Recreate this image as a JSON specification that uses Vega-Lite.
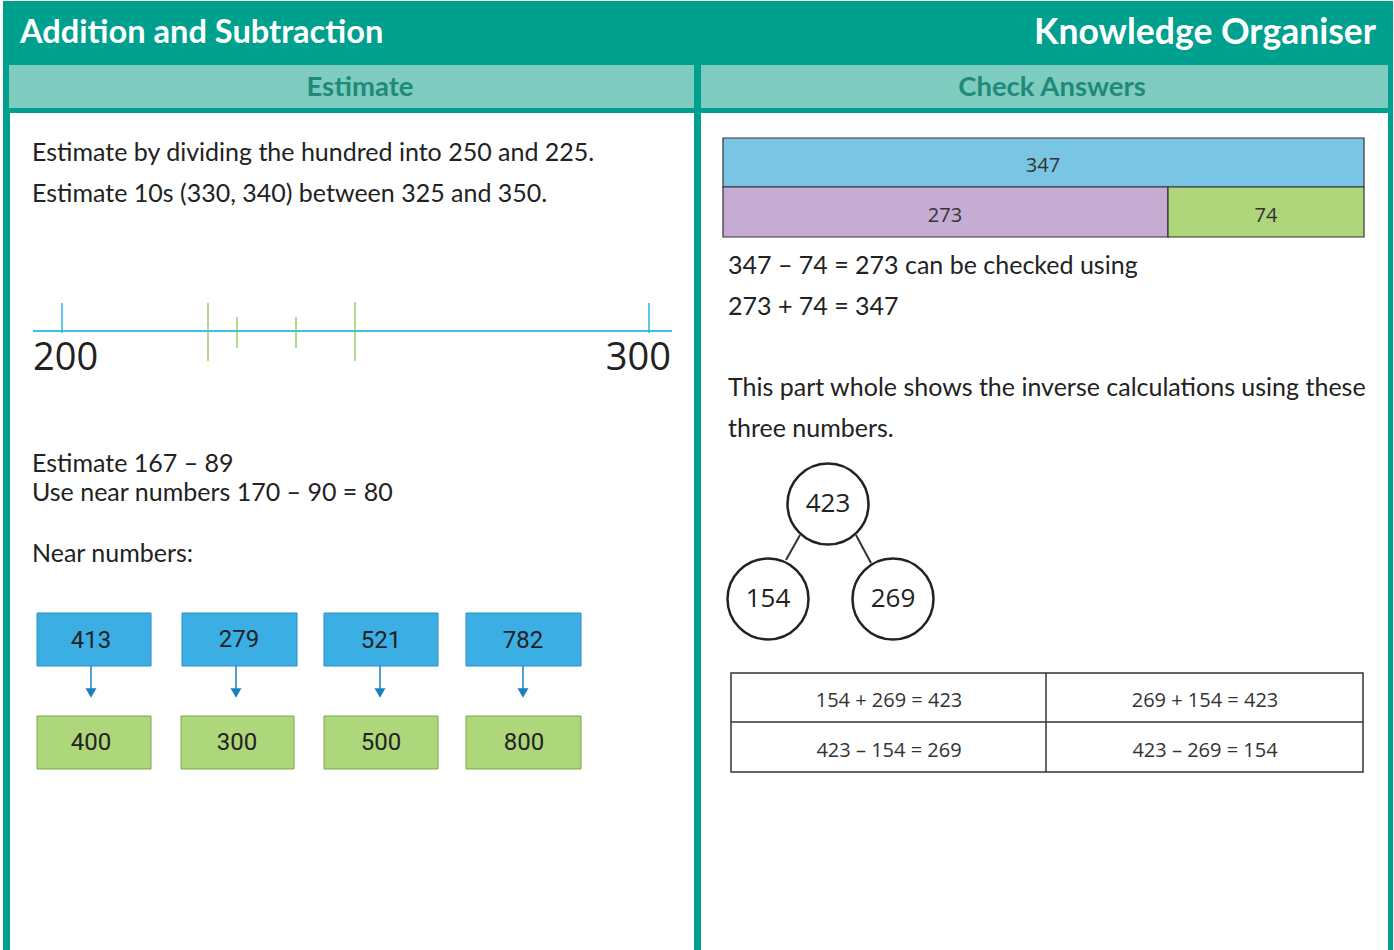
{
  "$schema": "https://vega.github.io/schema/vega-lite/v6.json",
  "width": 1394,
  "height": 950,
  "autosize": {"type": "fit", "contains": "padding"},
  "padding": 0,
  "background": "white",
  "config": {"view": {"stroke": null}},
  "datasets": {
    "frame": [{"x": 3, "y": 1, "x2": 1393, "y2": 950}],
    "subheads": [{"x": 9, "y": 65, "x2": 694, "y2": 108}, {"x": 701, "y": 65, "x2": 1388, "y2": 108}],
    "panels": [{"x": 10, "y": 113, "x2": 694, "y2": 950}, {"x": 701, "y": 113, "x2": 1388, "y2": 950}],
    "title_left": [{"x": 20, "y": 33, "t": "Addition and Subtraction"}],
    "title_right": [{"x": 1376, "y": 33, "t": "Knowledge Organiser"}],
    "subhead_text": [{"x": 360, "y": 88, "t": "Estimate"}, {"x": 1052, "y": 88, "t": "Check Answers"}],
    "body": [
      {"x": 32, "y": 153, "t": "Estimate by dividing the hundred into 250 and 225."},
      {"x": 32, "y": 194, "t": "Estimate 10s (330, 340) between 325 and 350."},
      {"x": 32, "y": 464, "t": "Estimate 167 – 89"},
      {"x": 32, "y": 493, "t": "Use near numbers 170 – 90 = 80"},
      {"x": 32, "y": 554, "t": "Near numbers:"},
      {"x": 728, "y": 266, "t": "347 – 74 = 273 can be checked using"},
      {"x": 728, "y": 307, "t": "273 + 74 = 347"},
      {"x": 728, "y": 388, "t": "This part whole shows the inverse calculations using these"},
      {"x": 728, "y": 429, "t": "three numbers."}
    ],
    "line_main": [{"x": 33, "x2": 672, "y": 331, "y2": 331}],
    "ticks_blue": [{"x": 62, "x2": 62, "y": 303, "y2": 333}, {"x": 649, "x2": 649, "y": 303, "y2": 333}],
    "ticks_green": [
      {"x": 208, "x2": 208, "y": 303, "y2": 361},
      {"x": 237, "x2": 237, "y": 317, "y2": 348},
      {"x": 296, "x2": 296, "y": 317, "y2": 348},
      {"x": 355, "x2": 355, "y": 302, "y2": 361}
    ],
    "nl_left": [{"x": 33, "y": 359, "t": "200"}],
    "nl_right": [{"x": 671, "y": 359, "t": "300"}],
    "boxes_given": [
      {"x": 37, "x2": 151, "y": 613, "y2": 666},
      {"x": 182, "x2": 297, "y": 613, "y2": 666},
      {"x": 324, "x2": 438, "y": 613, "y2": 666},
      {"x": 466, "x2": 581, "y": 613, "y2": 666}
    ],
    "given_text": [
      {"x": 91, "y": 641, "t": "413"},
      {"x": 239, "y": 640, "t": "279"},
      {"x": 381, "y": 641, "t": "521"},
      {"x": 523, "y": 641, "t": "782"}
    ],
    "arrows": [
      {"x": 91, "x2": 91, "y": 666, "y2": 689},
      {"x": 236, "x2": 236, "y": 666, "y2": 689},
      {"x": 380, "x2": 380, "y": 666, "y2": 689},
      {"x": 523, "x2": 523, "y": 666, "y2": 689}
    ],
    "heads": [{"x": 91, "y": 693}, {"x": 236, "y": 693}, {"x": 380, "y": 693}, {"x": 523, "y": 693}],
    "boxes_round": [
      {"x": 37, "x2": 151, "y": 716, "y2": 769},
      {"x": 181, "x2": 294, "y": 716, "y2": 769},
      {"x": 324, "x2": 438, "y": 716, "y2": 769},
      {"x": 466, "x2": 581, "y": 716, "y2": 769}
    ],
    "round_text": [
      {"x": 91, "y": 743, "t": "400"},
      {"x": 237, "y": 743, "t": "300"},
      {"x": 381, "y": 743, "t": "500"},
      {"x": 524, "y": 743, "t": "800"}
    ],
    "bar_model": [
      {"x": 723, "x2": 1364, "y": 138, "y2": 187, "part": "whole"},
      {"x": 723, "x2": 1168, "y": 187, "y2": 237, "part": "part1"},
      {"x": 1168, "x2": 1364, "y": 187, "y2": 237, "part": "part2"}
    ],
    "bar_text": [
      {"x": 1043, "y": 166, "t": "347"},
      {"x": 945, "y": 216, "t": "273"},
      {"x": 1266, "y": 216, "t": "74"}
    ],
    "pw_links": [
      {"x": 800, "y": 535, "x2": 786, "y2": 560},
      {"x": 856, "y": 535, "x2": 871, "y2": 563}
    ],
    "pw_nodes": [
      {"x": 828, "y": 504, "t": "423"},
      {"x": 768, "y": 599, "t": "154"},
      {"x": 893, "y": 599, "t": "269"}
    ],
    "table_box": [{"x": 731, "x2": 1363, "y": 673, "y2": 772}],
    "table_lines": [
      {"x": 731, "x2": 1363, "y": 722, "y2": 722},
      {"x": 1046, "x2": 1046, "y": 673, "y2": 772}
    ],
    "table_text": [
      {"x": 889, "y": 701, "t": "154 + 269 = 423"},
      {"x": 1205, "y": 701, "t": "269 + 154 = 423"},
      {"x": 889, "y": 751, "t": "423 – 154 = 269"},
      {"x": 1205, "y": 751, "t": "423 – 269 = 154"}
    ]
  },
  "encoding": {
    "x": {"field": "x", "type": "quantitative", "axis": null, "scale": {"domain": [0, 1394], "nice": false, "zero": false}},
    "y": {"field": "y", "type": "quantitative", "axis": null, "scale": {"domain": [0, 950], "nice": false, "zero": false, "reverse": true}}
  },
  "layer": [
    {"data": {"name": "frame"}, "mark": {"type": "rect", "color": "#00A08E"}, "encoding": {"x2": {"field": "x2"}, "y2": {"field": "y2"}}},
    {"data": {"name": "subheads"}, "mark": {"type": "rect", "color": "#7ECBBF"}, "encoding": {"x2": {"field": "x2"}, "y2": {"field": "y2"}}},
    {"data": {"name": "panels"}, "mark": {"type": "rect", "color": "white"}, "encoding": {"x2": {"field": "x2"}, "y2": {"field": "y2"}}},
    {"data": {"name": "title_left"}, "mark": {"type": "text", "align": "left", "baseline": "middle", "font": "Lato", "fontWeight": "bold", "fontSize": 32.6, "color": "white"}, "encoding": {"text": {"field": "t"}}},
    {"data": {"name": "title_right"}, "mark": {"type": "text", "align": "right", "baseline": "middle", "font": "Lato", "fontWeight": "bold", "fontSize": 35.5, "color": "white"}, "encoding": {"text": {"field": "t"}}},
    {"data": {"name": "subhead_text"}, "mark": {"type": "text", "align": "center", "baseline": "middle", "font": "Lato", "fontWeight": "bold", "fontSize": 27.5, "color": "#1E8A7A"}, "encoding": {"text": {"field": "t"}}},
    {"data": {"name": "body"}, "mark": {"type": "text", "align": "left", "baseline": "middle", "font": "Lato", "fontSize": 25, "color": "#222222"}, "encoding": {"text": {"field": "t"}}},
    {"data": {"name": "line_main"}, "mark": {"type": "rule", "color": "#3EBFEA", "strokeWidth": 2}, "encoding": {"x2": {"field": "x2"}, "y2": {"field": "y2"}}},
    {"data": {"name": "ticks_blue"}, "mark": {"type": "rule", "color": "#2BB2E6", "strokeWidth": 1.5}, "encoding": {"x2": {"field": "x2"}, "y2": {"field": "y2"}}},
    {"data": {"name": "ticks_green"}, "mark": {"type": "rule", "color": "#7DC241", "strokeWidth": 1.2}, "encoding": {"x2": {"field": "x2"}, "y2": {"field": "y2"}}},
    {"data": {"name": "nl_left"}, "mark": {"type": "text", "align": "left", "baseline": "middle", "font": "Open Sans", "fontSize": 38, "color": "#222222"}, "encoding": {"text": {"field": "t"}}},
    {"data": {"name": "nl_right"}, "mark": {"type": "text", "align": "right", "baseline": "middle", "font": "Open Sans", "fontSize": 38, "color": "#222222"}, "encoding": {"text": {"field": "t"}}},
    {"data": {"name": "boxes_given"}, "mark": {"type": "rect", "fill": "#3BAEE4", "stroke": "#2B8DC4", "strokeWidth": 1}, "encoding": {"x2": {"field": "x2"}, "y2": {"field": "y2"}}},
    {"data": {"name": "given_text"}, "mark": {"type": "text", "align": "center", "baseline": "middle", "font": "Roboto", "fontSize": 24, "color": "#222222"}, "encoding": {"text": {"field": "t"}}},
    {"data": {"name": "arrows"}, "mark": {"type": "rule", "color": "#1A7FBF", "strokeWidth": 1.5}, "encoding": {"x2": {"field": "x2"}, "y2": {"field": "y2"}}},
    {"data": {"name": "heads"}, "mark": {"type": "point", "shape": "triangle-down", "filled": true, "color": "#1A7FBF", "opacity": 1, "size": 120}},
    {"data": {"name": "boxes_round"}, "mark": {"type": "rect", "fill": "#AED67A", "stroke": "#78A94A", "strokeWidth": 1}, "encoding": {"x2": {"field": "x2"}, "y2": {"field": "y2"}}},
    {"data": {"name": "round_text"}, "mark": {"type": "text", "align": "center", "baseline": "middle", "font": "Roboto", "fontSize": 24, "color": "#222222"}, "encoding": {"text": {"field": "t"}}},
    {"data": {"name": "bar_model"}, "mark": {"type": "rect", "stroke": "#333333", "strokeWidth": 1.2, "opacity": 1}, "encoding": {"x2": {"field": "x2"}, "y2": {"field": "y2"}, "fill": {"field": "part", "type": "nominal", "legend": null, "scale": {"domain": ["whole", "part1", "part2"], "range": ["#7AC5E3", "#C6ABD3", "#AED57A"]}}}},
    {"data": {"name": "bar_text"}, "mark": {"type": "text", "align": "center", "baseline": "middle", "font": "Open Sans", "fontSize": 20, "color": "#333333"}, "encoding": {"text": {"field": "t"}}},
    {"data": {"name": "pw_links"}, "mark": {"type": "rule", "color": "#333333", "strokeWidth": 2}, "encoding": {"x2": {"field": "x2"}, "y2": {"field": "y2"}}},
    {"data": {"name": "pw_nodes"}, "mark": {"type": "point", "shape": "circle", "filled": true, "fill": "white", "stroke": "#222222", "strokeWidth": 2.5, "opacity": 1, "size": 6561}},
    {"data": {"name": "pw_nodes"}, "mark": {"type": "text", "align": "center", "baseline": "middle", "font": "Open Sans", "fontSize": 26, "color": "#222222"}, "encoding": {"text": {"field": "t"}}},
    {"data": {"name": "table_box"}, "mark": {"type": "rect", "fill": "white", "stroke": "#333333", "strokeWidth": 1.5}, "encoding": {"x2": {"field": "x2"}, "y2": {"field": "y2"}}},
    {"data": {"name": "table_lines"}, "mark": {"type": "rule", "color": "#333333", "strokeWidth": 1.5}, "encoding": {"x2": {"field": "x2"}, "y2": {"field": "y2"}}},
    {"data": {"name": "table_text"}, "mark": {"type": "text", "align": "center", "baseline": "middle", "font": "Open Sans", "fontSize": 20, "color": "#333333"}, "encoding": {"text": {"field": "t"}}}
  ]
}
